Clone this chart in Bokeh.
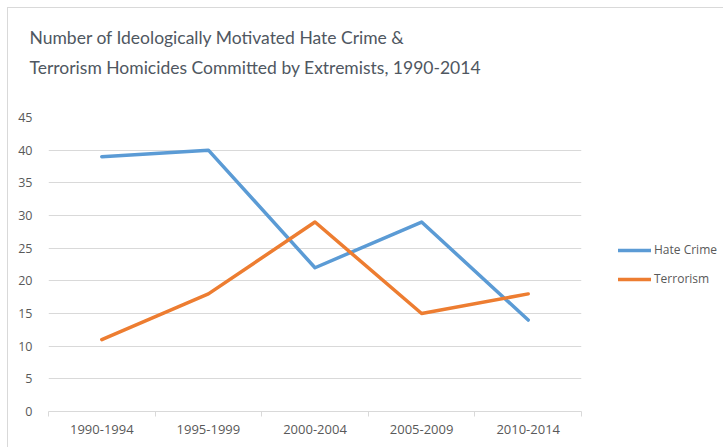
from bokeh.plotting import figure
from bokeh.models import (ColumnDataSource, FixedTicker, Legend, LegendItem, Range1d, Title)
from bokeh.embed import file_html
from bokeh.resources import INLINE

categories = ["1990-1994", "1995-1999", "2000-2004", "2005-2009", "2010-2014"]
hate_crime = [39, 40, 22, 29, 14]
terrorism = [11, 18, 29, 15, 18]
y_ticks = [0, 5, 10, 15, 20, 25, 30, 35, 40, 45]
title_lines = ["Number of Ideologically Motivated Hate Crime &",
               "Terrorism Homicides Committed by Extremists, 1990-2014"]

xs = [i + 0.5 for i in range(len(categories))]
src = ColumnDataSource(dict(x=xs, hate=hate_crime, terr=terrorism))

GRAY = "#595959"
FONT = "Open Sans"

p = figure(frame_width=533, frame_height=294, output_backend="svg", toolbar_location=None,
           x_range=Range1d(0, len(categories)), y_range=Range1d(0, 45),
           min_border_left=40, min_border_right=143, min_border_top=109, min_border_bottom=37,
           margin=(7, 0, 0, 7))
p.styles = {"border": "1px solid #d9d9d9", "box-sizing": "border-box"}
p.outline_line_color = None
p.background_fill_color = "white"
p.border_fill_color = "white"

r1 = p.line("x", "hate", source=src, line_color="#5b9bd5", line_width=3.5, line_cap="round", line_join="round")
r2 = p.line("x", "terr", source=src, line_color="#ed7d31", line_width=3.5, line_cap="round", line_join="round")

p.xgrid.grid_line_color = None
p.ygrid.grid_line_color = "#d9d9d9"
p.ygrid.grid_line_width = 1

p.xaxis.ticker = FixedTicker(ticks=xs, minor_ticks=list(range(len(categories) + 1)))
p.xaxis.major_label_overrides = {x: c for x, c in zip(xs, categories)}
p.xaxis.major_tick_line_color = None
p.xaxis.minor_tick_line_color = "#d9d9d9"
p.xaxis.minor_tick_out = 5
p.xaxis.minor_tick_in = 0
p.xaxis.axis_line_color = "#d9d9d9"
p.xaxis.major_label_text_font = FONT
p.xaxis.major_label_text_font_size = "13px"
p.xaxis.major_label_text_color = GRAY
p.xaxis.major_label_standoff = 7

p.yaxis.ticker = FixedTicker(ticks=y_ticks)
p.yaxis.axis_line_color = None
p.yaxis.major_tick_line_color = None
p.yaxis.minor_tick_line_color = None
p.yaxis.major_label_text_font = FONT
p.yaxis.major_label_text_font_size = "12.5px"
p.yaxis.major_label_text_color = GRAY
p.yaxis.major_label_standoff = 10

# spacer (nearest the frame), then the two-line title above it
p.add_layout(Title(text=" ", text_font=FONT, text_font_size="27px", standoff=0), "above")
p.add_layout(Title(text="\n".join(title_lines), text_font="Lato",
                   text_font_size="17.5px", text_line_height=1.43,
                   text_color="#4f5761", text_font_style="normal", offset=-19, standoff=0), "above")

legend = Legend(items=[LegendItem(label="Hate Crime", renderers=[r1]),
                       LegendItem(label="Terrorism", renderers=[r2])],
                location=(37, 124), orientation="vertical",
                label_text_font=FONT, label_text_font_size="12px", label_text_color=GRAY,
                glyph_width=33, glyph_height=14, spacing=12, padding=0, margin=0,
                label_standoff=3, border_line_color=None, background_fill_alpha=0)
p.add_layout(legend, "right")

open("out.html", "w").write(file_html(p, INLINE))
